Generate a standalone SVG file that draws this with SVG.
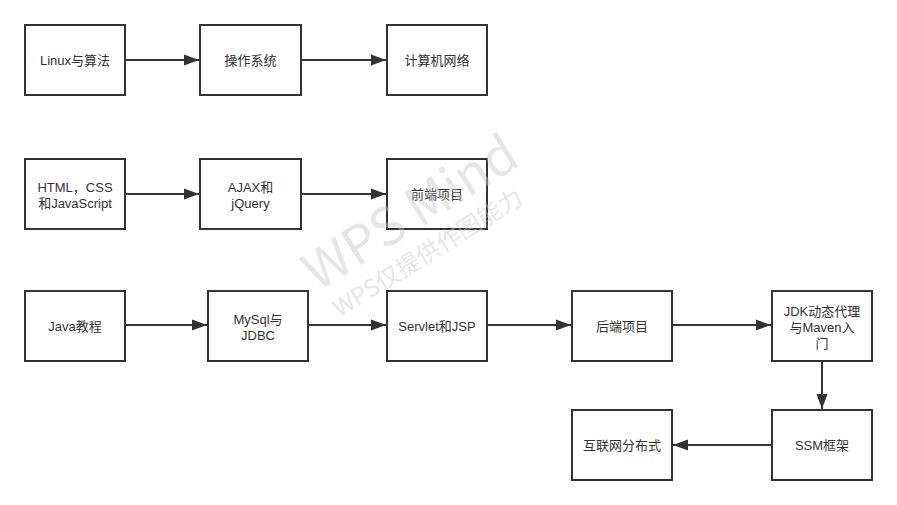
<svg xmlns="http://www.w3.org/2000/svg" width="897" height="505" viewBox="0 0 897 505">
<defs>
<marker id="ah" markerWidth="16" markerHeight="12" refX="15" refY="6" orient="auto" markerUnits="userSpaceOnUse">
<path d="M0,0.5 L15,6 L0,11.5 Z" fill="#333"/>
</marker>
<style>
.box{fill:#fff;stroke:#333;stroke-width:2}
.t{font-family:"Liberation Sans","Noto Sans CJK SC",sans-serif;font-size:13px;fill:#333;text-anchor:middle;dominant-baseline:central}
.c{stroke:#333;stroke-width:2;fill:none;marker-end:url(#ah)}
.wm{font-family:"Noto Sans CJK SC","Liberation Sans",sans-serif;fill:#c8c8c8;fill-opacity:0.45;text-anchor:middle}
</style>
</defs>
<rect width="897" height="505" fill="#fff"/>
<g id="connectors">
<path class="c" d="M126,60 L199,60"/>
<path class="c" d="M302,60 L386,60"/>
<path class="c" d="M126,194 L199,194"/>
<path class="c" d="M302,194 L386,194"/>
<path class="c" d="M126,325 L207,325"/>
<path class="c" d="M309,325 L386,325"/>
<path class="c" d="M488,325 L571,325"/>
<path class="c" d="M673,325 L771,325"/>
<path class="c" d="M822,361 L822,409"/>
<path class="c" d="M771,445 L673,445"/>
</g>
<g id="n1"><rect class="box" x="25" y="25" width="100" height="70"/><text class="t" x="75" y="60">Linux与算法</text></g>
<g id="n2"><rect class="box" x="200" y="25" width="101" height="70"/><text class="t" x="250.5" y="60">操作系统</text></g>
<g id="n3"><rect class="box" x="387" y="25" width="100" height="70"/><text class="t" x="437" y="60">计算机网络</text></g>
<g id="n4"><rect class="box" x="25" y="159" width="100" height="70"/><text class="t" x="75" y="187">HTML，CSS</text><text class="t" x="75" y="203">和JavaScript</text></g>
<g id="n5"><rect class="box" x="200" y="159" width="101" height="70"/><text class="t" x="250.5" y="187">AJAX和</text><text class="t" x="250.5" y="203">jQuery</text></g>
<g id="n6"><rect class="box" x="387" y="159" width="100" height="70"/><text class="t" x="437" y="194">前端项目</text></g>
<g id="n7"><rect class="box" x="25" y="291" width="100" height="70"/><text class="t" x="75" y="326">Java教程</text></g>
<g id="n8"><rect class="box" x="208" y="291" width="100" height="70"/><text class="t" x="258" y="319">MySql与</text><text class="t" x="258" y="335">JDBC</text></g>
<g id="n9"><rect class="box" x="387" y="291" width="100" height="70"/><text class="t" x="437" y="326">Servlet和JSP</text></g>
<g id="n10"><rect class="box" x="572" y="291" width="100" height="70"/><text class="t" x="622" y="326">后端项目</text></g>
<g id="n11"><rect class="box" x="772" y="291" width="100" height="70"/><text class="t" x="822" y="311">JDK动态代理</text><text class="t" x="822" y="327">与Maven入</text><text class="t" x="822" y="343">门</text></g>
<g id="n12"><rect class="box" x="772" y="410" width="100" height="70"/><text class="t" x="822" y="445">SSM框架</text></g>
<g id="n13"><rect class="box" x="572" y="410" width="100" height="70"/><text class="t" x="622" y="445">互联网分布式</text></g>
<g id="watermark">
<text class="wm" font-size="52" transform="translate(420,228) rotate(-32)">WPS Mind</text>
<text class="wm" font-size="24" transform="translate(432,260) rotate(-32)">WPS仅提供作图能力</text>
</g>
</svg>
